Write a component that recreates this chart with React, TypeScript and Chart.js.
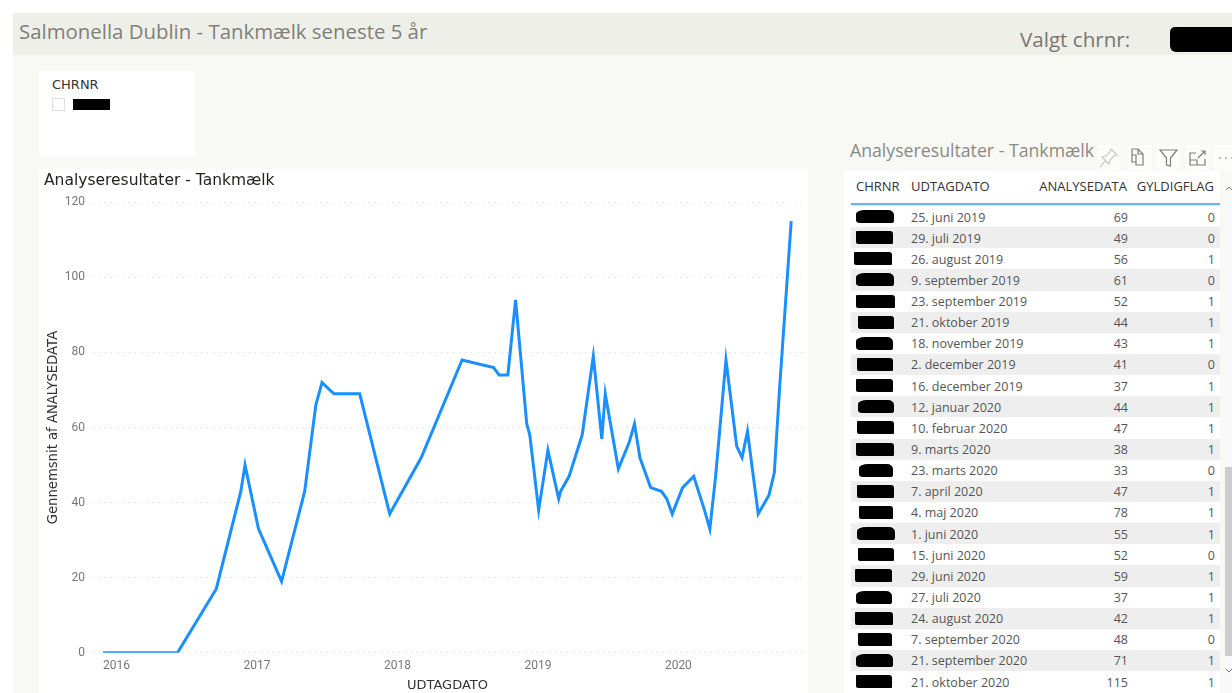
import React, { useEffect, useRef } from "react";
import { Chart, registerables } from "chart.js";

Chart.register(...registerables);

// Tank milk samples before the period listed in the table.
const earlierDates = [
  "2015-11-27", "2016-06-08", "2016-09-17", "2016-11-20", "2016-12-01", "2017-01-05",
  "2017-03-06", "2017-05-05", "2017-06-03", "2017-06-19", "2017-07-20", "2017-09-25",
  "2017-12-12", "2018-03-04", "2018-06-18", "2018-09-08", "2018-09-22", "2018-10-15",
  "2018-11-04", "2018-12-03", "2018-12-11", "2019-01-03", "2019-01-27", "2019-02-24",
  "2019-03-01", "2019-03-23", "2019-04-26", "2019-05-25", "2019-06-16",
];
const earlierValues = [
  0, 0, 17, 43, 50, 33, 19, 43, 66, 72, 69, 69, 37, 52, 78, 76, 74, 74, 94, 61, 58, 38, 54, 41,
  43, 47, 58, 79, 57,
];

// Samples shown in the table.
const tableDates = [
  "2019-06-25", "2019-07-29", "2019-08-26", "2019-09-09", "2019-09-23", "2019-10-21",
  "2019-11-18", "2019-12-02", "2019-12-16", "2020-01-12", "2020-02-10", "2020-03-09",
  "2020-03-23", "2020-04-07", "2020-05-04", "2020-06-01", "2020-06-15", "2020-06-29",
  "2020-07-27", "2020-08-24", "2020-09-07", "2020-09-21", "2020-10-21",
];
const tableLabels = [
  "25. juni 2019", "29. juli 2019", "26. august 2019", "9. september 2019", "23. september 2019",
  "21. oktober 2019", "18. november 2019", "2. december 2019", "16. december 2019",
  "12. januar 2020", "10. februar 2020", "9. marts 2020", "23. marts 2020", "7. april 2020",
  "4. maj 2020", "1. juni 2020", "15. juni 2020", "29. juni 2020", "27. juli 2020",
  "24. august 2020", "7. september 2020", "21. september 2020", "21. oktober 2020",
];
const tableValues = [69, 49, 56, 61, 52, 44, 43, 41, 37, 44, 47, 38, 33, 47, 78, 55, 52, 59, 37, 42, 48, 71, 115];
const tableFlags = [0, 0, 1, 0, 1, 1, 1, 0, 1, 1, 1, 1, 0, 1, 1, 1, 0, 1, 1, 1, 0, 1, 1];

// Horizontal start and width of the black masks over the CHRNR column.
const maskLeft = [856, 856, 854, 856, 856, 858, 856, 857, 856, 858, 857, 856, 859, 857, 859, 857, 858, 855, 856, 855, 858, 856, 856];
const maskWidth = [38, 37, 38, 38, 39, 36, 37, 36, 37, 36, 37, 38, 34, 37, 34, 38, 36, 37, 36, 38, 34, 37, 36];

const dayOfYear = (iso: string) => {
  const year = Number(iso.slice(0, 4));
  const start = Date.UTC(year, 0, 1);
  const end = Date.UTC(year + 1, 0, 1);
  return year + (Date.parse(iso + "T00:00:00Z") - start) / (end - start);
};

const points = [...earlierDates, ...tableDates].map((d, i) => ({
  x: dayOfYear(d),
  y: [...earlierValues, ...tableValues][i],
}));

const SEGOE = '"Open Sans", "Noto Sans", sans-serif';
const DIN = '"DejaVu Sans", sans-serif';
const TICK = 'Roboto, "Noto Sans", sans-serif';

const abs = (left: number, top: number, extra: React.CSSProperties = {}): React.CSSProperties => ({
  position: "absolute",
  left,
  top,
  whiteSpace: "nowrap",
  ...extra,
});

function Icon({ left, d, color = "#7d7d7d" }: { left: number; d: string; color?: string }) {
  return (
    <div style={abs(left, 145, { width: 24, height: 25, background: "#fcfcfa" })}>
      <svg width="24" height="25" viewBox="0 0 24 25">
        <path d={d} fill="none" stroke={color} strokeWidth="1.2" />
      </svg>
    </div>
  );
}

export default function App() {
  const ref = useRef<HTMLCanvasElement>(null);

  useEffect(() => {
    if (!ref.current) return;
    const chart = new Chart(ref.current, {
      type: "line",
      data: {
        datasets: [
          {
            data: points,
            borderColor: "#1A8FFF",
            borderWidth: 3,
            pointRadius: 0,
            tension: 0,
            borderJoinStyle: "miter",
          },
        ],
      },
      options: {
        responsive: false,
        animation: false,
        layout: { padding: { left: 5, right: 6, top: 0, bottom: 0 } },
        plugins: {
          legend: { display: false },
          tooltip: { enabled: false },
          title: {
            display: true,
            text: "Analyseresultater - Tankmælk",
            align: "start",
            color: "#252423",
            font: { family: DIN, size: 15.5, weight: "400" },
            padding: { top: 2.7, bottom: 12 },
          },
        },
        scales: {
          x: {
            type: "linear",
            min: 2015.833,
            max: 2020.88,
            afterFit: (s: any) => {
              s.height = 40.2;
            },
            grid: { display: false, drawTicks: false, tickLength: 0 },
            border: { display: false },
            ticks: {
              stepSize: 1,
              includeBounds: false,
              color: "#777777",
              padding: 6,
              maxRotation: 0,
              font: { family: TICK, size: 12 },
              callback: (v: any) => String(v),
            },
            title: {
              display: true,
              text: "UDTAGDATO",
              color: "#333333",
              padding: { top: 3, bottom: 0 },
              font: { family: DIN, size: 13, weight: "400" },
            },
          },
          y: {
            min: 0,
            max: 120,
            afterFit: (s: any) => {
              s.width = 49;
            },
            grid: { color: "#d9d9d9", lineWidth: 1, drawTicks: false },
            border: { display: false, dash: [1, 5] },
            ticks: {
              stepSize: 20,
              color: "#777777",
              padding: 8,
              font: { family: TICK, size: 12 },
            },
            title: {
              display: true,
              text: "Gennemsnit af ANALYSEDATA",
              color: "#333333",
              padding: { top: 2, bottom: 0 },
              font: { family: DIN, size: 13.2, weight: "400" },
            },
          },
        },
      },
    });
    return () => chart.destroy();
  }, []);

  const rowTop = (i: number) => 206 + i * 21.14;
  const headFont = `13px ${SEGOE}`;
  const cellFont = `12.5px ${SEGOE}`;

  return (
    <div style={{ position: "fixed", inset: 0, width: 1232, height: 693, overflow: "hidden", background: "#ffffff" }}>
      <div style={abs(13, 13, { width: 1219, height: 680, background: "#f8f9f5" })} />
      <div style={abs(13, 13, { width: 1219, height: 42, background: "#efefe9" })} />
      <div style={abs(19, 17, { font: `20.4px ${SEGOE}`, color: "#7f7f7a" })}>Salmonella Dublin - Tankmælk seneste 5 år</div>
      <div style={abs(1020, 25, { font: `20.6px ${SEGOE}`, color: "#77776f" })}>Valgt chrnr:</div>
      <div style={abs(1170, 27, { width: 62, height: 25, background: "#000", borderRadius: "5px 0 0 6px" })} />

      {/* Slicer */}
      <div style={abs(39, 71, { width: 156, height: 86, background: "#fff" })} />
      <div style={abs(52, 77, { font: `13px ${DIN}`, color: "#333" })}>CHRNR</div>
      <div style={abs(52, 98, { width: 13, height: 13, boxSizing: "border-box", border: "1px solid #ddd" })} />
      <div style={abs(73, 99, { width: 37, height: 11, background: "#000" })} />

      {/* Line chart */}
      <canvas ref={ref} width={769} height={524} style={abs(39, 169, { width: 769, height: 524, background: "#fff" })} />

      {/* Table */}
      <div style={abs(850, 138, { font: `17.7px ${SEGOE}`, color: "#8a8a85" })}>Analyseresultater - Tankmælk</div>
      <Icon left={1097} color="#c8c8c8" d="M14 4l6 6-3 1-4 4-1 4-7-7 4-1 4-4zM9 15l-6 7" />
      <Icon left={1128} d="M4 4h6l5 5v11H8V10H4zM4 4v13h4M10 4v5h5" />
      <Icon left={1156} d="M4 5h17l-6.500 8v8l-4-1v-7z" />
      <Icon left={1185} d="M11 8H5v12h15v-6M5 15h7v5M13 13l7-7M16 6h4v4" />
      <Icon left={1214} d="M5 13h2M11 13h2M17 13h2" />
      <div style={abs(844, 171, { width: 376, height: 522, background: "#fff" })} />
      <div style={abs(1225, 176, { width: 7, height: 517, background: "#f9f9f9" })} />
      <div style={abs(1225, 467, { width: 7, height: 189, background: "#cdcdcd" })} />
      <svg style={abs(1225, 182)} width="7" height="12"><path d="M1 8l3-3 3 3" fill="none" stroke="#777" /></svg>
      <svg style={abs(1225, 664)} width="7" height="12"><path d="M1 5l3 3 3-3" fill="none" stroke="#777" /></svg>

      <div style={abs(856, 177, { font: headFont, color: "#333" })}>CHRNR</div>
      <div style={abs(911, 177, { font: headFont, color: "#333" })}>UDTAGDATO</div>
      <div style={{ ...abs(0, 177, { font: headFont, color: "#333" }), left: "auto", right: 1232 - 1127 }}>ANALYSEDATA</div>
      <div style={{ ...abs(0, 177, { font: headFont, color: "#333" }), left: "auto", right: 1232 - 1214 }}>GYLDIGFLAG</div>
      <div style={abs(851, 203, { width: 369, height: 2, background: "#64b5f6" })} />
      <div style={abs(851, 205, { width: 369, height: 1, background: "#e4e4e4" })} />

      {tableLabels.map((label, i) => (
        <React.Fragment key={label}>
          {i % 2 === 1 && <div style={abs(851, rowTop(i), { width: 369, height: 21.14, background: "#eeeeee" })} />}
          <div
            style={abs(maskLeft[i], rowTop(i) + 4, {
              width: maskWidth[i],
              height: 13,
              background: "#000",
              borderRadius: i % 3 === 0 ? "9px 6px 3px 4px / 4px 5px 2px 3px" : "1px 3px 1px 2px",
            })}
          />
          <div style={abs(911, rowTop(i) + 2.5, { font: cellFont, color: "#555", lineHeight: "18px" })}>{label}</div>
          <div style={{ ...abs(0, rowTop(i) + 2.5, { font: cellFont, color: "#555", lineHeight: "18px" }), left: "auto", right: 1232 - 1128 }}>
            {tableValues[i]}
          </div>
          <div style={{ ...abs(0, rowTop(i) + 2.5, { font: cellFont, color: "#555", lineHeight: "18px" }), left: "auto", right: 1232 - 1215 }}>
            {tableFlags[i]}
          </div>
        </React.Fragment>
      ))}
    </div>
  );
}
